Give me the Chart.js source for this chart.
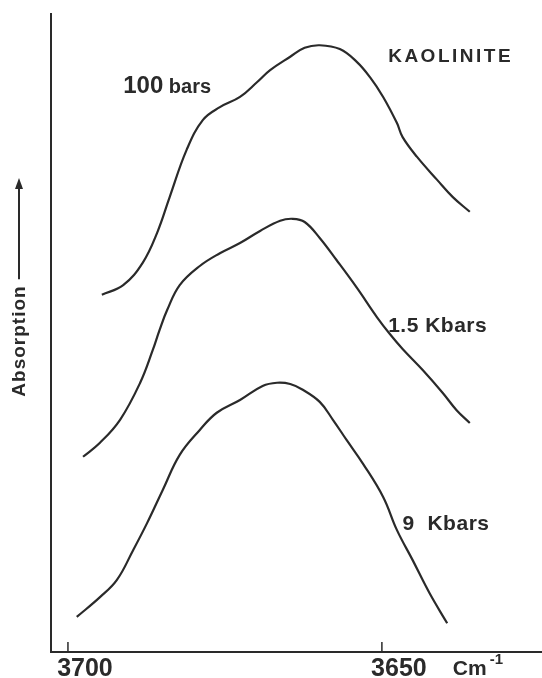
<!DOCTYPE html>
<html>
<head>
<meta charset="utf-8">
<script src="https://cdn.jsdelivr.net/npm/chart.js@4.4.1/dist/chart.umd.min.js"></script>
<style>
  html, body { margin: 0; padding: 0; background: #fff; }
  #wrap { width: 542px; height: 678px; position: relative; }
</style>
</head>
<body>
<div id="wrap"><canvas id="spectra"></canvas></div>
<script>
// ── DATA (wavenumber in cm-1, absorption in arbitrary units, curves offset) ──
const wn100  = [3694.6, 3691.2, 3688.1, 3685.8, 3683.8, 3681.1, 3678.5, 3675.8, 3672.6, 3669.9, 3667.8, 3664.6,
                3662.3, 3659.9, 3656.7, 3654.0, 3651.9, 3649.8, 3647.6, 3646.7, 3644.4, 3641.2, 3638.7, 3636.0];
const abs100 = [56.0, 57.5, 61.0, 65.7, 71.3, 78.7, 83.4, 85.4, 87.0, 89.3, 91.2, 93.3,
                94.7, 95.1, 94.5, 92.5, 90.1, 87.0, 82.9, 80.7, 77.6, 74.0, 71.3, 69.0];

const wn15   = [3697.6, 3694.9, 3691.7, 3688.5, 3686.5, 3685.4, 3684.2, 3682.2, 3679.0, 3675.8, 3672.6, 3669.4, 3666.2,
                3664.2, 3662.3, 3659.9, 3657.2, 3654.0, 3650.8, 3648.7, 3646.7, 3643.5, 3640.3, 3638.1, 3636.0];
const abs15  = [30.6, 32.8, 36.4, 42.2, 47.3, 50.5, 53.6, 57.5, 60.5, 62.5, 64.1, 66.0, 67.6,
                67.9, 67.4, 64.9, 61.4, 57.1, 52.5, 49.8, 47.5, 44.2, 40.6, 37.9, 35.9];

const wn9    = [3698.6, 3694.9, 3692.2, 3689.6, 3687.4, 3684.9, 3682.2, 3679.0, 3676.3, 3672.6, 3669.0, 3666.7,
                3664.6, 3662.6, 3659.9, 3657.8, 3655.6, 3653.0, 3649.8, 3647.6, 3645.1, 3642.4, 3639.6];
const abs9   = [5.5, 8.6, 11.3, 16.0, 20.2, 25.4, 30.9, 34.8, 37.5, 39.5, 41.7, 42.2,
                42.0, 41.1, 39.2, 36.4, 33.2, 29.5, 24.3, 19.1, 14.4, 9.2, 4.5];

const xTicks = [3700, 3650];
const seriesNames = ['100 bars', '1.5 Kbars', '9 Kbars'];

const INK = '#2a2a2a';
const FONT = "'Liberation Sans', Arial, sans-serif";

// labels placed in data units (wavenumber, absorption)
const curveLabels = [
  { parts: [['100', 24], [' bars', 20]], wn: 3691.2, abs: 87.6 },
  { parts: [['1.5 Kbars', 21]],          wn: 3649.0, abs: 50.2, spacing: '0.5px' },
  { parts: [['9  Kbars', 21]],           wn: 3646.7, abs: 19.1, spacing: '0.5px' },
  { parts: [['KAOLINITE', 19]],          wn: 3649.0, abs: 92.5, spacing: '2.5px' },
];

const toPoints = (xs, ys) => xs.map((v, i) => ({ x: v, y: ys[i] }));

const decorations = {
  id: 'decorations',
  afterDraw(chart) {
    const { ctx, scales: { x, y } } = chart;
    ctx.save();
    ctx.fillStyle = INK;
    ctx.strokeStyle = INK;

    // inward tick marks
    ctx.lineWidth = 1.5;
    xTicks.forEach(v => {
      const px = x.getPixelForValue(v);
      ctx.beginPath();
      ctx.moveTo(px, x.top);
      ctx.lineTo(px, x.top - 10);
      ctx.stroke();
    });

    // curve labels
    ctx.textBaseline = 'alphabetic';
    ctx.textAlign = 'left';
    curveLabels.forEach(l => {
      let px = x.getPixelForValue(l.wn);
      const py = y.getPixelForValue(l.abs);
      ctx.letterSpacing = l.spacing || '0px';
      l.parts.forEach(([txt, size]) => {
        ctx.font = `bold ${size}px ${FONT}`;
        ctx.fillText(txt, px, py);
        px += ctx.measureText(txt).width;
      });
    });
    ctx.letterSpacing = '0px';

    // unit label under the axis
    let ux = x.getPixelForValue(3638.7);
    ctx.font = `bold 21px ${FONT}`;
    ctx.fillText('Cm', ux, x.top + 23);
    ux += ctx.measureText('Cm').width + 3;
    ctx.font = `bold 15px ${FONT}`;
    ctx.fillText('-1', ux, x.top + 12);

    // y title with arrow
    const cy = (y.top + y.bottom) / 2 + 8;
    ctx.translate(19, cy);
    ctx.rotate(-Math.PI / 2);
    ctx.font = `bold 19px ${FONT}`;
    ctx.textAlign = 'center';
    ctx.textBaseline = 'middle';
    ctx.letterSpacing = '1px';
    ctx.fillText('Absorption', 0, 1);
    const half = ctx.measureText('Absorption').width / 2;
    const end = cy - 178;
    ctx.lineWidth = 2;
    ctx.beginPath();
    ctx.moveTo(half + 6, 0);
    ctx.lineTo(end - 6, 0);
    ctx.stroke();
    ctx.beginPath();
    ctx.moveTo(end, 0);
    ctx.lineTo(end - 11, -4);
    ctx.lineTo(end - 11, 4);
    ctx.closePath();
    ctx.fill();
    ctx.restore();
  }
};

const lineStyle = {
  borderColor: INK,
  borderWidth: 2.2,
  pointRadius: 0,
  tension: 0.4,
  fill: false,
};

new Chart(document.getElementById('spectra'), {
  type: 'line',
  data: {
    datasets: [
      { label: seriesNames[0], data: toPoints(wn100, abs100), ...lineStyle },
      { label: seriesNames[1], data: toPoints(wn15, abs15), ...lineStyle },
      { label: seriesNames[2], data: toPoints(wn9, abs9), ...lineStyle },
    ],
  },
  options: {
    responsive: true,
    maintainAspectRatio: false,
    animation: false,
    layout: { padding: { top: 14, right: 0, left: 0, bottom: 0 } },
    plugins: { legend: { display: false }, tooltip: { enabled: false } },
    scales: {
      x: {
        type: 'linear',
        reverse: true,
        min: 3624.5,
        max: 3702.7,
        grid: { display: false, drawTicks: false },
        border: { display: true, color: INK, width: 2 },
        afterBuildTicks: s => { s.ticks = xTicks.map(v => ({ value: v })); },
        afterFit: s => { s.height = 26; },
        ticks: {
          autoSkip: false,
          maxRotation: 0,
          padding: 2,
          labelOffset: 17,
          color: INK,
          font: { family: FONT, size: 25, weight: 'bold' },
          callback: v => String(v),
        },
      },
      y: {
        min: 0,
        max: 100,
        grid: { display: false, drawTicks: false },
        border: { display: true, color: INK, width: 2 },
        ticks: { display: false },
        afterFit: s => { s.width = 51; },
      },
    },
  },
  plugins: [decorations],
});
</script>
</body>
</html>
